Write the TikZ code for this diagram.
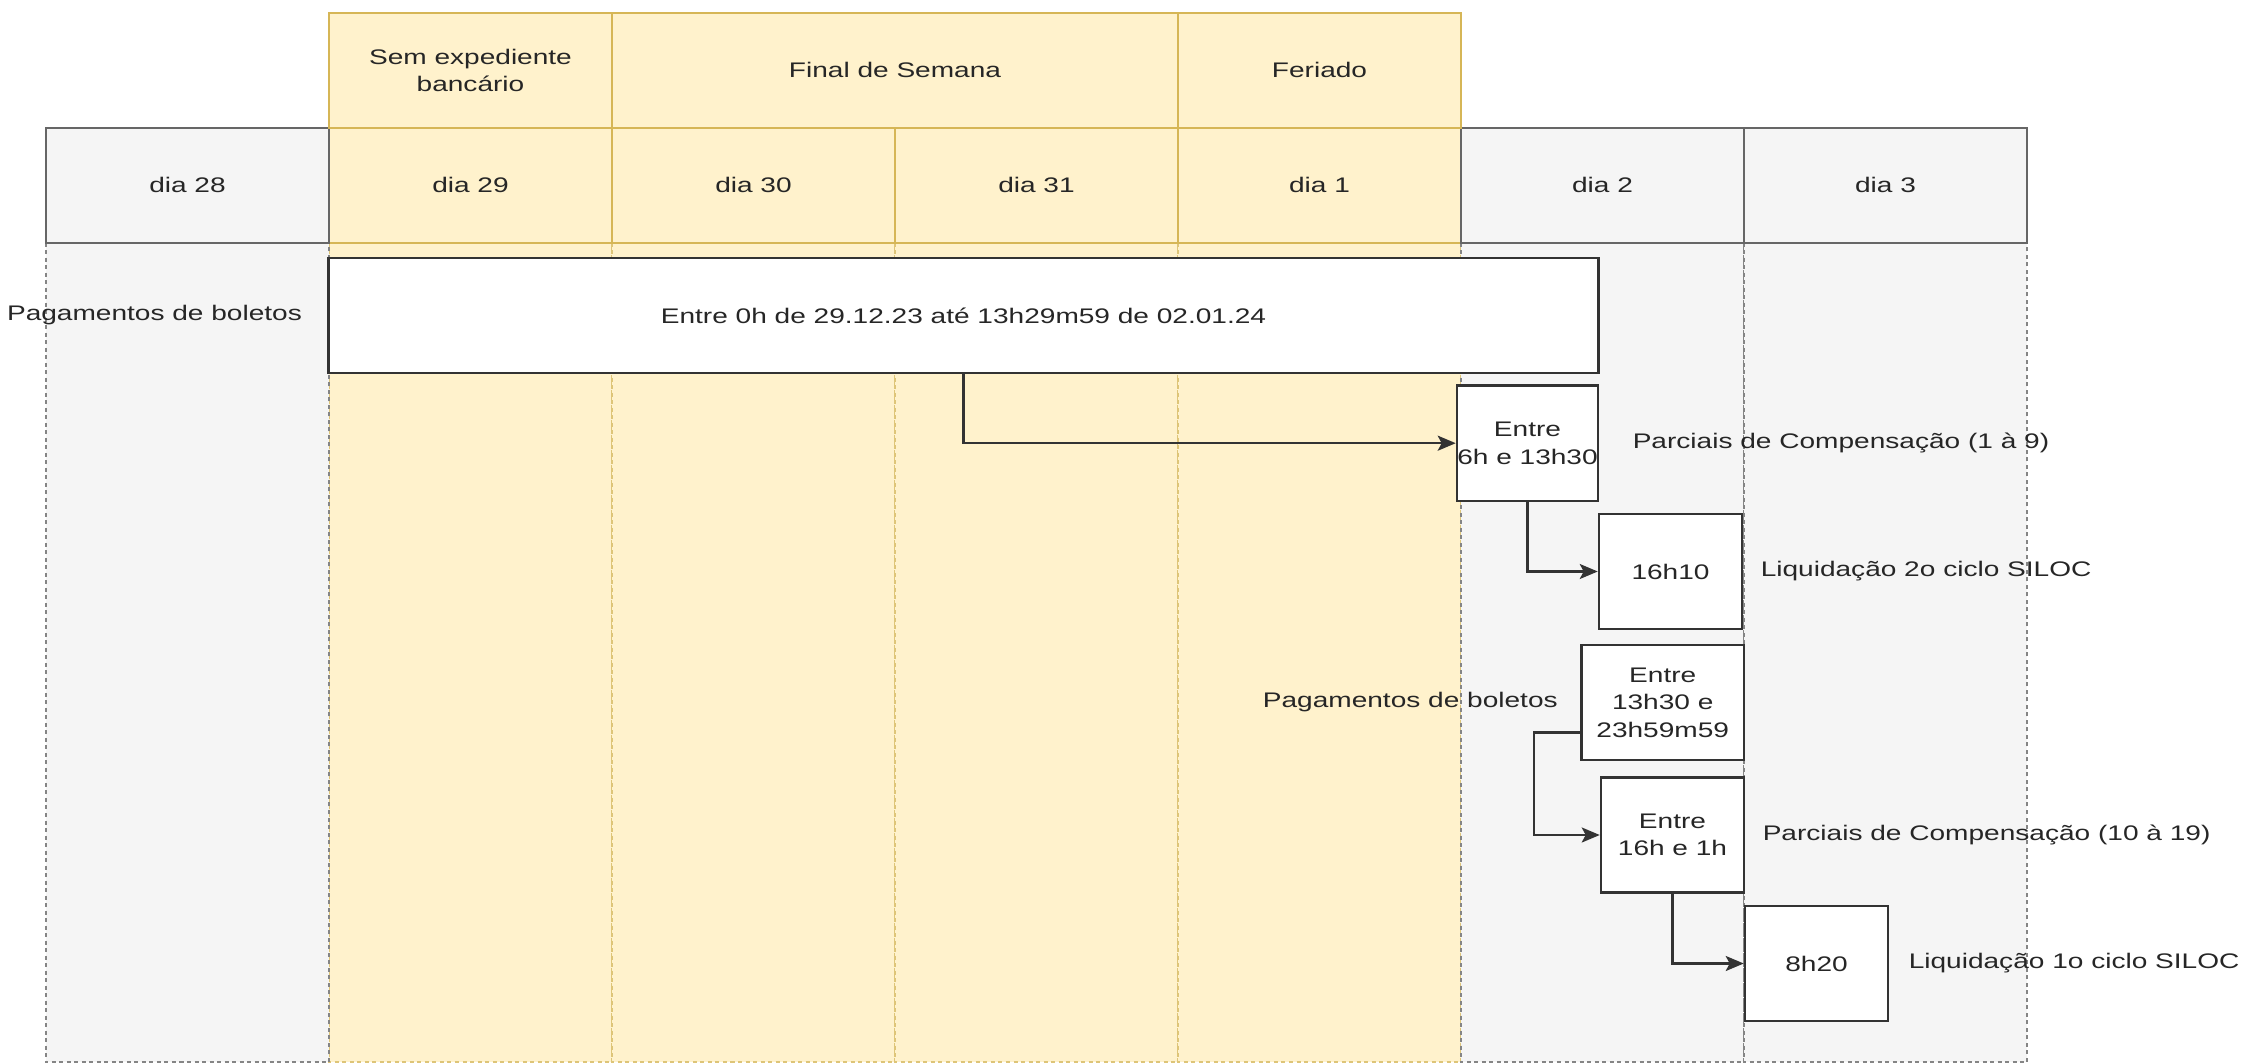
\documentclass[tikz,border=0pt]{standalone}
\usepackage{fontspec}
\setmainfont{Liberation Sans}[FakeStretch=1.33]
\usetikzlibrary{arrows.meta,positioning,calc}
\definecolor{folgafill}{HTML}{FFF2CC}
\definecolor{folgaline}{HTML}{D6B656}
\definecolor{uteisfill}{HTML}{F5F5F5}
\definecolor{uteisline}{HTML}{666666}
\definecolor{caixaline}{HTML}{333333}
\begin{document}
\begin{tikzpicture}[x=0.01cm, y=-0.01cm,
    every node/.style={font=\fontsize{6}{7.8}\selectfont, text=black!85, inner sep=0.5pt},
    dia/.style={draw, line width=0.55pt, minimum width=2.83cm, minimum height=1.15cm, align=center},
    raia/.style={line width=0.55pt, dash pattern=on 0.04cm off 0.035cm},
    caixa/.style={draw=caixaline, fill=white, line width=0.7pt, inner sep=0pt,
      minimum width=1.43cm, minimum height=1.15cm, align=center},
    seta/.style={draw=caixaline, line width=0.7pt,
      -{Stealth[length=0.18cm, width=0.15cm, inset=0.04cm]}}]
  \useasboundingbox (0,0) rectangle (2242,1064);

  % Raias pontilhadas & linha dos dias
  \foreach \d/\i/\c/\l in {29/1/folgafill/folgaline, 30/2/folgafill/folgaline,
      31/3/folgafill/folgaline, 1/4/folgafill/folgaline,
      28/0/uteisfill/uteisline, 2/5/uteisfill/uteisline, 3/6/uteisfill/uteisline} {
    \filldraw[raia, fill=\c, draw=\l!80] (46+283*\i, 242.7) rectangle ++(283, 819.5);
    \node[dia, fill=\c, draw=\l] (dia\d) at (187.5+283*\i, 185.2) {dia \d};
  }

  % Cabecalho dos dias sem expediente
  \node[dia, fill=folgafill, draw=folgaline] (semexp) at (470.5, 70.2) {Sem expediente\\bancário};
  \node[dia, fill=folgafill, draw=folgaline, minimum width=5.66cm] (fimsem) at (895, 70.2) {Final de Semana};
  \node[dia, fill=folgafill, draw=folgaline] (feriado) at (1319.5, 70.2) {Feriado};

  % Caixas de horario
  \node[caixa, minimum width=12.69cm] (pagto) at (963.5, 315.5) {Entre 0h de 29.12.23 até 13h29m59 de 02.01.24};
  \node[caixa, minimum width=1.41cm] (parc1) at (1527.5, 443.2) {Entre\\6h e 13h30};
  \node[caixa] (liq2) at (1670.5, 571.5) {16h10};
  \node[caixa, minimum width=1.625cm] (pagto2) at (1662.7, 702.5) {Entre\\13h30 e\\23h59m59};
  \node[caixa] (parc2) at (1672.5, 835) {Entre\\16h e 1h};
  \node[caixa] (liq1) at (1816.5, 963.5) {8h20};

  % Rotulos
  \node[left=0.23cm of pagto] (rpagto) {Pagamentos de boletos};
  \node[right=0.31cm of parc1] (rparc1) {Parciais de Compensação (1 à 9)};
  \node[right=0.15cm of liq2] (rliq2) {Liquidação 2o ciclo SILOC};
  \node[left=0.2cm of pagto2] (rpagto2) {Pagamentos de boletos};
  \node[right=0.15cm of parc2] (rparc2) {Parciais de Compensação (10 à 19)};
  \node[right=0.17cm of liq1] (rliq1) {Liquidação 1o ciclo SILOC};

  % Setas
  \coordinate (pagto2saida) at ($(pagto2.south west)!0.243!(pagto2.north west)$);
  \draw[seta] (pagto.south) |- (parc1.west);
  \draw[seta] (parc1.south) |- (liq2.west);
  \draw[seta] (pagto2saida) -- ++(-46,0) |- (parc2.west);
  \draw[seta] (parc2.south) |- (liq1.west);
\end{tikzpicture}
\end{document}
